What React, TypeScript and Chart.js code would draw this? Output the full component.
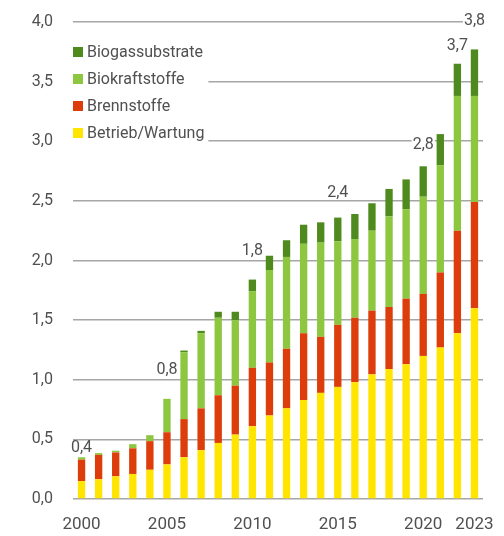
import React, { useEffect, useRef } from 'react';
import { Chart, registerables } from 'chart.js';
Chart.register(...registerables);

const years = ['2000','2001','2002','2003','2004','2005','2006','2007','2008','2009','2010','2011','2012','2013','2014','2015','2016','2017','2018','2019','2020','2021','2022','2023'];
const shownYears = ['2000','2005','2010','2015','2020','2023'];

const betriebWartung = [0.15,0.165,0.19,0.21,0.245,0.29,0.35,0.41,0.47,0.54,0.61,0.70,0.76,0.83,0.89,0.94,0.98,1.045,1.09,1.13,1.20,1.27,1.39,1.60];
const brennstoffe = [0.18,0.205,0.20,0.215,0.24,0.27,0.32,0.35,0.40,0.41,0.49,0.445,0.50,0.56,0.47,0.52,0.54,0.535,0.52,0.55,0.52,0.63,0.86,0.89];
const biokraftstoffe = [0.02,0.015,0.015,0.035,0.05,0.28,0.56,0.63,0.65,0.55,0.64,0.775,0.77,0.75,0.79,0.70,0.66,0.67,0.76,0.75,0.815,0.90,1.13,0.89];
const biogassubstrate = [0,0,0,0,0,0,0.015,0.02,0.05,0.07,0.10,0.12,0.14,0.16,0.17,0.20,0.21,0.23,0.23,0.25,0.255,0.26,0.27,0.39];

const yTickValues = [0,0.5,1,1.5,2,2.5,3,3.5,4];

const noteYears = ['2000','2005','2010','2015','2020','2022','2023'];
const noteTexts = ['0,4','0,8','1,8','2,4','2,8','3,7','3,8'];
const noteLevels = [0.43,1.08,2.08,2.57,2.97,3.80,4.01];

const FONT = 'Roboto, "Liberation Sans", sans-serif';
const TEXT = '#505050';

const overlayPlugin = {
  id: 'overlay',
  afterDatasetsDraw(chart: any) {
    const ctx = chart.ctx;
    const xs = chart.scales.x;
    const ys = chart.scales.y;
    const area = chart.chartArea;
    ctx.save();
    ctx.font = `16px ${FONT}`;
    ctx.textAlign = 'center';
    ctx.textBaseline = 'middle';
    noteYears.forEach((yr, i) => {
      const idx = years.indexOf(yr);
      const x = xs.getPixelForValue(idx);
      const y = ys.getPixelForValue(noteLevels[i]);
      const w = ctx.measureText(noteTexts[i]).width;
      ctx.fillStyle = '#ffffff';
      ctx.fillRect(x - w / 2 - 1, y - 6, w + 2, 12);
      ctx.fillStyle = TEXT;
      ctx.fillText(noteTexts[i], x, y);
    });
    const items = chart.data.datasets.map((d: any) => ({ label: d.label, color: d.backgroundColor })).reverse();
    const lx = area.left;
    const ly = area.top + 30;
    const rowH = 27;
    ctx.font = `16px ${FONT}`;
    ctx.textAlign = 'left';
    let maxW = 0;
    items.forEach((it: any) => { maxW = Math.max(maxW, ctx.measureText(it.label).width); });
    ctx.fillStyle = '#ffffff';
    ctx.fillRect(lx - 2, ly - 12, 16 + maxW + 4, rowH * (items.length - 1) + 24);
    items.forEach((it: any, i: number) => {
      const cy = ly + i * rowH;
      ctx.fillStyle = it.color;
      ctx.fillRect(lx, cy - 5, 10, 10);
      ctx.fillStyle = TEXT;
      ctx.fillText(it.label, lx + 14, cy + 1);
    });
    ctx.restore();
  },
};

export default function App() {
  const ref = useRef<HTMLCanvasElement>(null);
  useEffect(() => {
    document.body.style.margin = '0';
    const chart = new Chart(ref.current as HTMLCanvasElement, {
      type: 'bar',
      data: {
        labels: years,
        datasets: [
          { label: 'Betrieb/Wartung', data: betriebWartung, backgroundColor: '#ffe500' },
          { label: 'Brennstoffe', data: brennstoffe, backgroundColor: '#dc3d0a' },
          { label: 'Biokraftstoffe', data: biokraftstoffe, backgroundColor: '#8dc63f' },
          { label: 'Biogassubstrate', data: biogassubstrate, backgroundColor: '#4f8a1e' },
        ],
      },
      options: {
        animation: false,
        responsive: true,
        maintainAspectRatio: false,
        datasets: { bar: { categoryPercentage: 1, barPercentage: 0.43 } },
        layout: { padding: { top: 22, right: 21, left: 0, bottom: 0 } },
        plugins: { legend: { display: false }, tooltip: { enabled: false } },
        scales: {
          x: {
            stacked: true,
            grid: { display: false, drawTicks: false },
            border: { display: false },
            afterFit: (s: any) => { s.height = 37; s.paddingLeft = 0; s.paddingRight = 0; },
            ticks: {
              autoSkip: false,
              maxRotation: 0,
              padding: 16,
              color: TEXT,
              font: { family: FONT, size: 17 },
              callback: (_v: any, i: number) => (shownYears.includes(years[i]) ? years[i] : ''),
            },
          },
          y: {
            stacked: true,
            min: 0,
            max: 4,
            afterFit: (s: any) => { s.width = 73; s.paddingTop = 0; s.paddingBottom = 0; },
            afterBuildTicks: (s: any) => { s.ticks = yTickValues.map((v) => ({ value: v })); },
            grid: { color: '#a6a6a6', lineWidth: 1.6, drawTicks: false },
            border: { display: false },
            ticks: {
              padding: 20,
              color: TEXT,
              font: { family: FONT, size: 16 },
              callback: (v: any) => Number(v).toFixed(1).replace('.', ','),
            },
          },
        },
      },
      plugins: [overlayPlugin],
    });
    return () => chart.destroy();
  }, []);
  return (
    <div style={{ width: 504, height: 536, position: 'relative', background: '#fff' }}>
      <canvas ref={ref} />
    </div>
  );
}
